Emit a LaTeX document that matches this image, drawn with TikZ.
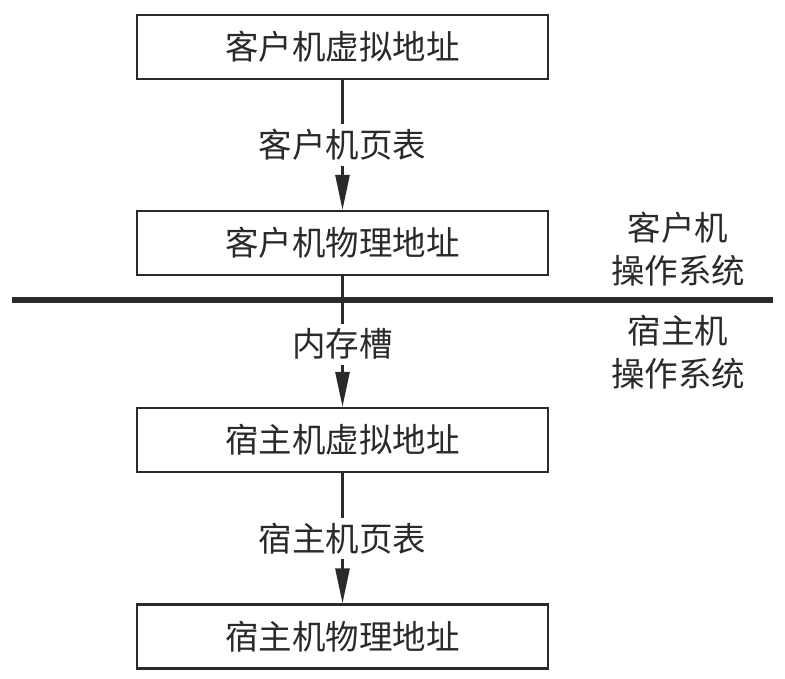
\documentclass[tikz,border=0pt]{standalone}
\usepackage{fontspec}
\newfontfamily\cjk{Noto Sans CJK SC}
\usetikzlibrary{arrows.meta}
\definecolor{ink}{HTML}{2A2A2A}
\tikzset{
  addrbox/.style={draw=ink, line width=2.2pt, minimum width=411pt, minimum height=64pt, inner sep=0pt, text=ink, font=\cjk\fontsize{33.5}{38}\selectfont},
  conn/.style={draw=ink, line width=2.6pt, -{Triangle[length=35pt,width=14pt]}},
  lbl/.style={fill=white, inner sep=5pt, text=ink, font=\cjk\fontsize{33.5}{38}\selectfont},
  oslbl/.style={align=center, text=ink, inner sep=0pt, font=\cjk\fontsize{33.5}{43}\selectfont},
}
\begin{document}
\begin{tikzpicture}[x=1pt, y=-1pt]
\useasboundingbox (0,0) rectangle (785,678);
\node[addrbox] (gva) at (342.5,47) {客户机虚拟地址};
\node[addrbox] (gpa) at (342.5,243) {客户机物理地址};
\node[addrbox] (hva) at (342.5,440) {宿主机虚拟地址};
\node[addrbox] (hpa) at (342.5,636.5) {宿主机物理地址};
\coordinate (divL) at (12,300);
\coordinate (divR) at (773,300);
\draw[ink, line width=5.5pt] (divL) -- (divR);
\draw[conn] (gva) -- node[lbl] (l1) {客户机页表} (gpa);
\draw[conn] (gpa) -- node[lbl, pos=0.52] (l2) {内存槽} (hva);
\draw[conn] (hva) -- node[lbl] (l3) {宿主机页表} (hpa);
\node[oslbl] (gos) at (678,249) {客户机\\操作系统};
\node[oslbl] (hos) at (678,352) {宿主机\\操作系统};
\end{tikzpicture}
\end{document}
